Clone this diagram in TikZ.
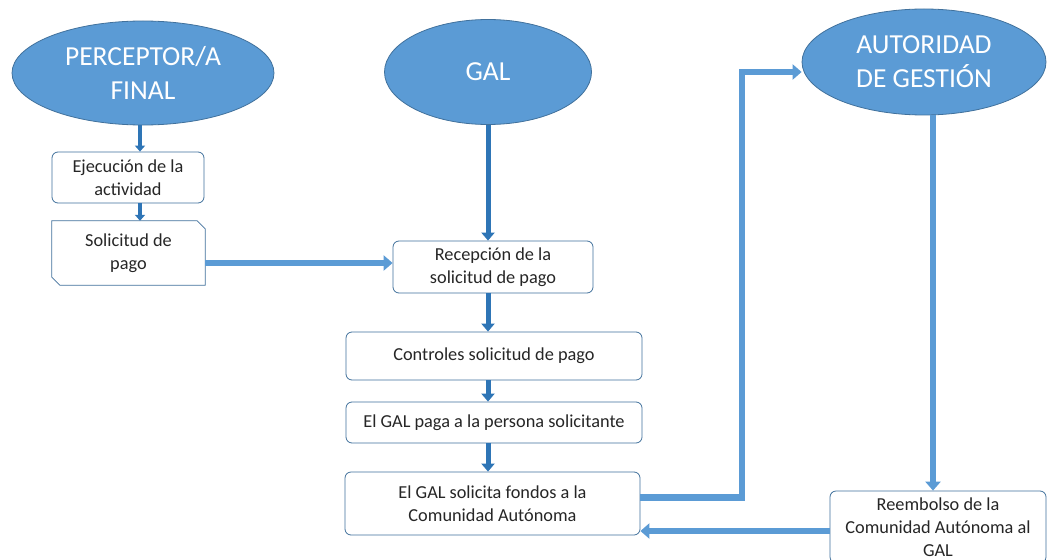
\documentclass[tikz,border=0pt]{standalone}
\usepackage{fontspec}
\setmainfont{Carlito}
\usetikzlibrary{arrows.meta,calc,shapes.geometric}
\definecolor{ofblue}{HTML}{5B9BD5}
\definecolor{ofdark}{HTML}{41719C}
\definecolor{arrdark}{HTML}{2E75B6}
\definecolor{txt}{HTML}{262626}
\begin{document}
\begin{tikzpicture}[x=1pt,y=-1pt,
  actor/.style={ellipse,fill=ofblue,draw=ofdark,line width=0.8pt,text=white,
    align=center,inner sep=0pt,font=\fontsize{27.5}{34}\selectfont},
  box/.style={rounded corners=6pt,draw=ofdark,line width=0.8pt,fill=white,text=txt,
    align=center,inner sep=0pt,font=\fontsize{18.3}{23}\selectfont},
  plain/.style={text=txt,align=center,inner sep=0pt,font=\fontsize{18.3}{23}\selectfont},
  arr/.style={draw=ofblue,line width=6.5pt,-{Triangle[width=15pt,length=9pt]}},
  darr/.style={draw=arrdark,line width=5pt,-{Triangle[width=13pt,length=8pt]}},
  thinarr/.style={draw=arrdark,line width=4pt,-{Triangle[width=10pt,length=6pt]}}]
\useasboundingbox (0,0) rectangle (1048,559);
\fill[white] (0,0) rectangle (1048,559);

\node[actor,minimum width=262pt,minimum height=104pt] (perc) at (143,73) {PERCEPTOR/A\\FINAL};
\node[actor,minimum width=207pt,minimum height=105pt] (gal) at (488,72) {GAL};
\node[actor,minimum width=244pt,minimum height=106pt] (aut) at (924,62) {AUTORIDAD\\DE GESTIÓN};

\node[box,minimum width=152pt,minimum height=51pt] (ejec) at (128,177.5) {Ejecución de la\\actividad};
\node[plain,minimum width=153pt,minimum height=64pt] (sol) at (128.5,253) {Solicitud de\\pago};
\draw[draw=ofdark,line width=0.8pt] (sol.north west) -- ($(sol.north east)+(-8,0)$) -- ($(sol.north east)+(0,8)$)
  -- (sol.south east) -- ($(sol.south west)+(8,0)$) -- ($(sol.south west)+(0,-8)$) -- cycle;
\node[box,minimum width=200pt,minimum height=52pt] (rec) at (493,267) {Recepción de la\\solicitud de pago};
\node[box,minimum width=296pt,minimum height=48pt] (ctrl) at (494,356) {Controles solicitud de pago};
\node[box,minimum width=296pt,minimum height=41pt] (paga) at (494,422.5) {El GAL paga a la persona solicitante};
\node[box,minimum width=295pt,minimum height=63pt] (solf) at (492.5,503.5) {El GAL solicita fondos a la\\Comunidad Autónoma};
\node[box,minimum width=216pt,minimum height=72pt] (reem) at (938,527) {Reembolso de la\\Comunidad Autónoma al\\GAL};

\draw[thinarr] ([xshift=-3pt]perc.south) -- ([xshift=-3pt]perc.south |- ejec.north);
\draw[thinarr] ([xshift=12pt]ejec.south) -- ([xshift=12pt]ejec.south |- sol.north);
\draw[arr] ([yshift=-10pt]sol.east) -- ([yshift=-10pt]sol.east -| rec.west);
\draw[darr] (gal.south) -- (gal.south |- rec.north);
\draw[darr] (gal.south |- rec.south) -- (gal.south |- ctrl.north);
\draw[darr] (gal.south |- ctrl.south) -- (gal.south |- paga.north);
\draw[darr] (gal.south |- paga.south) -- (gal.south |- solf.north);
\coordinate (turn) at (742,0);
\coordinate (ain) at ([yshift=-10pt]aut.west);
\draw[arr] ([yshift=6pt]solf.east) -| (turn |- ain) -- (ain);
\draw[arr] ([xshift=9pt]aut.south) -- ([xshift=9pt]aut.south |- reem.north);
\draw[arr] ([yshift=-4pt]reem.west) -- ([yshift=-4pt]reem.west -| solf.east);
\end{tikzpicture}
\end{document}
